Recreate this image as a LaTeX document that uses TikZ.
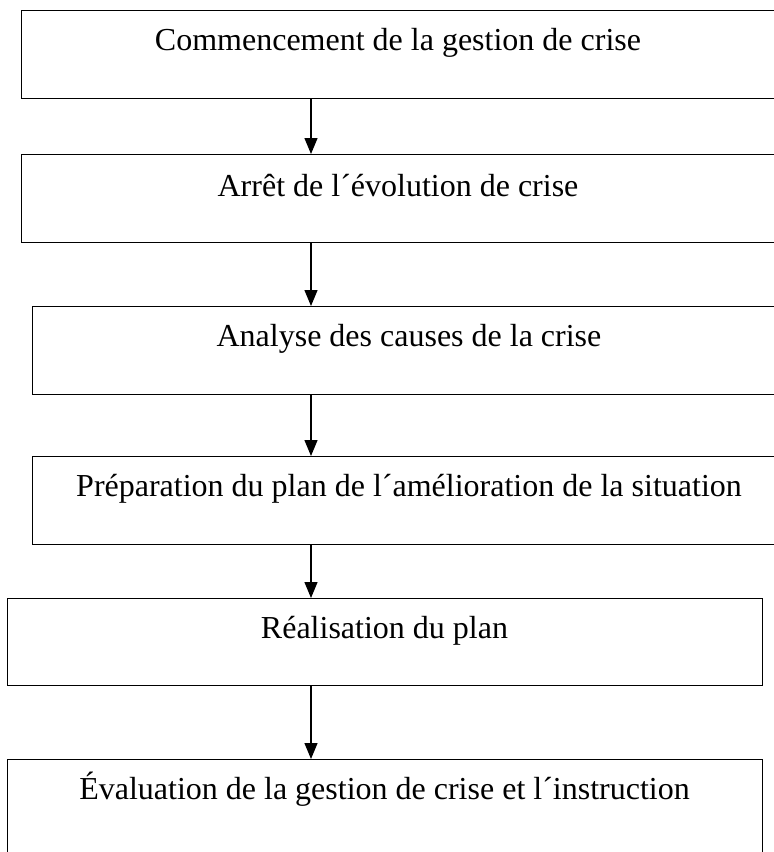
\documentclass[tikz,border=0pt]{standalone}
\usepackage{fontspec}
\setmainfont{Liberation Serif}
\usetikzlibrary{arrows.meta}
\begin{document}
\begin{tikzpicture}[x=1pt,y=-1pt,
  stepbox/.style={draw=black, line width=1pt, rectangle, anchor=north west,
    inner sep=0pt, outer sep=0pt},
  steptext/.style={anchor=base, inner sep=0pt, font=\fontsize{32}{38}\selectfont},
  flow/.style={draw=black, line width=1.3pt, -{Triangle[length=16pt,width=13pt]}}]
  \useasboundingbox (0,0) rectangle (774,852);
  \clip (0,0) rectangle (774,852);

  % boxes: top-left corner, width, height
  \node[stepbox, minimum width=754pt, minimum height=88pt] (b1) at (21,10) {};
  \node[stepbox, minimum width=754pt, minimum height=88pt] (b2) at (21,154) {};
  \node[stepbox, minimum width=754pt, minimum height=88pt] (b3) at (32,306) {};
  \node[stepbox, minimum width=754pt, minimum height=88pt] (b4) at (32,456) {};
  \node[stepbox, minimum width=755pt, minimum height=87pt] (b5) at (7,598) {};
  \node[stepbox, minimum width=755pt, minimum height=140pt] (b6) at (7,759) {};

  % labels, one line near the top of each box
  \node[steptext] (t1) at ([yshift=-40pt]b1.north) {Commencement de la gestion de crise};
  \node[steptext] (t2) at ([yshift=-42pt]b2.north) {Arrêt de l´évolution de crise};
  \node[steptext] (t3) at ([yshift=-40pt]b3.north) {Analyse des causes de la crise};
  \node[steptext] (t4) at ([yshift=-40pt]b4.north) {Préparation du plan de l´amélioration de la situation};
  \node[steptext] (t5) at ([yshift=-40pt]b5.north) {Réalisation du plan};
  \node[steptext] (t6) at ([yshift=-40pt]b6.north) {Évaluation de la gestion de crise et l´instruction};

  % all connectors run down one vertical line
  \coordinate (ax) at (311,0);
  \draw[flow] (b1.south -| ax) -- (b2.north -| ax);
  \draw[flow] (b2.south -| ax) -- (b3.north -| ax);
  \draw[flow] (b3.south -| ax) -- (b4.north -| ax);
  \draw[flow] (b4.south -| ax) -- (b5.north -| ax);
  \draw[flow] (b5.south -| ax) -- (b6.north -| ax);
\end{tikzpicture}
\end{document}
